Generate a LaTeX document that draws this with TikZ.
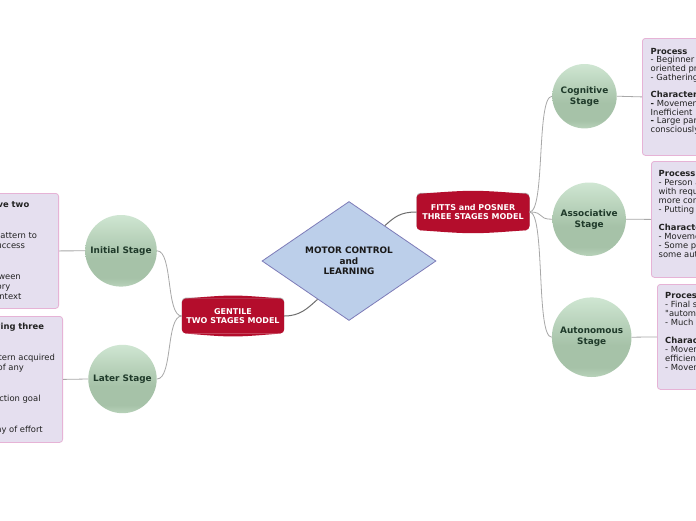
\documentclass[tikz,border=0pt]{standalone}
\usepackage{fontspec}
\setmainfont{DejaVu Sans}
\newfontfamily\plainq{DejaVu Sans}
\usetikzlibrary{calc,shapes.geometric,backgrounds}
\definecolor{boxfill}{HTML}{E5DFEF}
\definecolor{boxline}{HTML}{E6B3D6}
\definecolor{crimson}{HTML}{B40D2C}
\definecolor{diafill}{HTML}{BCCFEA}
\definecolor{dialine}{HTML}{7D7BB8}
\definecolor{ctop}{HTML}{CFE6D2}
\definecolor{cbot}{HTML}{A6C2A8}
\definecolor{crim}{HTML}{B8D2BA}
\definecolor{ctext}{HTML}{1F3A2A}
\definecolor{linkgray}{HTML}{A8A8A8}
\definecolor{linkdark}{HTML}{6E6E6E}
\definecolor{notetxt}{HTML}{222222}
\pgfdeclareverticalshading{stageshade}{100bp}{color(0bp)=(crim); color(25bp)=(crim); color(31bp)=(cbot); color(45bp)=(cbot); color(75bp)=(ctop); color(100bp)=(ctop)}
\begin{document}
\begin{tikzpicture}[x=1pt,y=-1pt,
  stage/.style={circle, inner sep=0, shading=stageshade, draw=none, text=ctext,
    font=\fontsize{8.9}{11}\selectfont\bfseries, align=center},
  modelbox/.style={rectangle, inner sep=0, text=white,
    font=\fontsize{8}{9.3}\selectfont\bfseries, align=center},
  notebox/.style={rectangle, rounded corners=3, fill=boxfill, draw=boxline, line width=0.8},
  lefttext/.style={inner sep=0, align=left, text=notetxt, font=\fontsize{8.4}{10.3}\selectfont},
  righttext/.style={inner sep=0, align=left, text=notetxt, font=\fontsize{8.4}{9.05}\selectfont},
  link/.style={draw=linkgray, line width=0.8},
  mainlink/.style={draw=linkdark, line width=1}]
\useasboundingbox (0,0) rectangle (696,520);

% note boxes
\node[notebox, minimum width=220, minimum height=115, anchor=north east] (lb1) at (59,193) {};
\node[notebox, minimum width=220, minimum height=126, anchor=north east] (lb2) at (63,316) {};
\node[notebox, minimum width=200, minimum height=117, anchor=north west] (rb1) at (642,38) {};
\node[notebox, minimum width=200, minimum height=116, anchor=north west] (rb2) at (651,161) {};
\node[notebox, minimum width=200, minimum height=105, anchor=north west] (rb3) at (657,284) {};

\node[lefttext, anchor=north west] (lt1) at (-101,200.6) {\textbf{A learner must achieve two}\\
\textbf{goals:}\\[10.3pt]
- Acquire a movement pattern to\\
allow some degree of success\\[10.3pt]
- Learning to\\
clearly discriminate between\\
regulatory, non-regulatory\\
in the environmental context};

\node[lefttext, anchor=north west] (lt2) at (-113,322.6) {\textbf{A learner has the following three}\\
\textbf{goals:}\\[10.3pt]
- Adapt the movement pattern acquired\\
to the changing demands of any\\
performance situation\\[10.3pt]
- Increase consistency of action goal\\
achievement\\[10.3pt]
- Perform skill with economy of effort};

\node[righttext, anchor=north west, font=\fontsize{8.4}{8.7}\selectfont] (rt1) at (650.5,47.8) {\textbf{Process}\\
- Beginner focuses on cognitively\\
oriented problems\\
- Gathering information\\[8.7pt]
\textbf{Characteristics}\\
\textbf{-} Movements are slow, inconsistent and\\
Inefficient\\
\textbf{-} Large part of the activity is\\
consciously controlled};

\node[righttext, anchor=north west] (rt2) at (658.5,170) {\textbf{Process}\\
- Person associates specific cues\\
with requirements of the skill,\\
more consistent performance\\
- Putting it all together\\[9.05pt]
\textbf{Characteristics}\\
- Movements more consistent\\
- Some parts of the skill achieve\\
some automaticity};

\node[righttext, anchor=north west] (rt3) at (665,292) {\textbf{Process}\\
- Final stage, skill becomes\\
{\plainq"}automatic{\plainq"} or habitual\\
- Much less attention required\\[9.05pt]
\textbf{Characteristics}\\
- Movements are accurate, consistent,\\
efficient\\
- Movements are automatic};

% central diamond
\node[diamond, draw=dialine, fill=diafill, line width=0.8, minimum width=174, minimum height=119,
  inner sep=0, align=center, text=black!90, font=\fontsize{8.9}{10.4}\selectfont\bfseries]
  (mc) at (349,261) {MOTOR CONTROL\\and\\LEARNING};

% model boxes
\node[modelbox, minimum width=112.6, minimum height=36] (fitts) at (473,212) {FITTS and POSNER\\THREE STAGES MODEL};
\node[modelbox, minimum width=102, minimum height=34.5] (gent) at (233,316) {GENTILE\\TWO STAGES MODEL};
\begin{scope}[on background layer]
\fill[white] (0,0) rectangle (696,520);
\foreach \b in {fitts,gent}{
  \fill[black!30, rounded corners=4] ([yshift=1pt]\b.north west) rectangle ([yshift=1pt,xshift=0pt]\b.south east);
  \fill[crimson, rounded corners=4] (\b.north west) rectangle (\b.south east);
  \fill[crimson] ([xshift=3pt]\b.north west) .. controls ([yshift=4pt]\b.north) .. ([xshift=-3pt]\b.north east) -- cycle;
  \fill[crimson] ([xshift=3pt]\b.south west) .. controls ([yshift=-4pt]\b.south) .. ([xshift=-3pt]\b.south east) -- cycle;
}
\end{scope}

% stage circles
\node[stage, minimum size=71.6] (init) at (121,250.8) {Initial Stage};
\node[stage, minimum size=68.4] (later) at (122.5,379) {Later Stage};
\node[stage, minimum size=64.4] (cog) at (584.5,96.2) {Cognitive\\Stage};
\node[stage, minimum size=73.4] (assoc) at (589.2,219.2) {Associative\\Stage};
\node[stage, minimum size=79.6] (auton) at (591.7,337.2) {Autonomous\\Stage};

% connectors
\draw[mainlink] ($(mc.north)!0.41!(mc.east)$) .. controls +(10,-9) and +(-16,0) .. (fitts.west);
\draw[mainlink] ($(mc.south)!0.36!(mc.west)$) .. controls +(-10,9) and +(16,0) .. (gent.east);
\draw[link] (gent.west) .. controls +(-16,0) and +(16,0) .. (init.east);
\draw[link] (gent.west) .. controls +(-16,0) and +(16,0) .. (later.east);
\draw[link] (fitts.east) .. controls +(16,0) and +(-16,0) .. (cog.west);
\draw[link] (fitts.east) .. controls +(16,0) and +(-16,0) .. (assoc.west);
\draw[link] (fitts.east) .. controls +(16,0) and +(-16,0) .. (auton.west);
\draw[link] (init.west) -- (lb1.east);
\draw[link] (later.west) -- (lb2.east);
\draw[link] (cog.east) -- (rb1.west);
\draw[link] (assoc.east) -- (rb2.west);
\draw[link] (auton.east) -- (rb3.west);
\end{tikzpicture}
\end{document}
